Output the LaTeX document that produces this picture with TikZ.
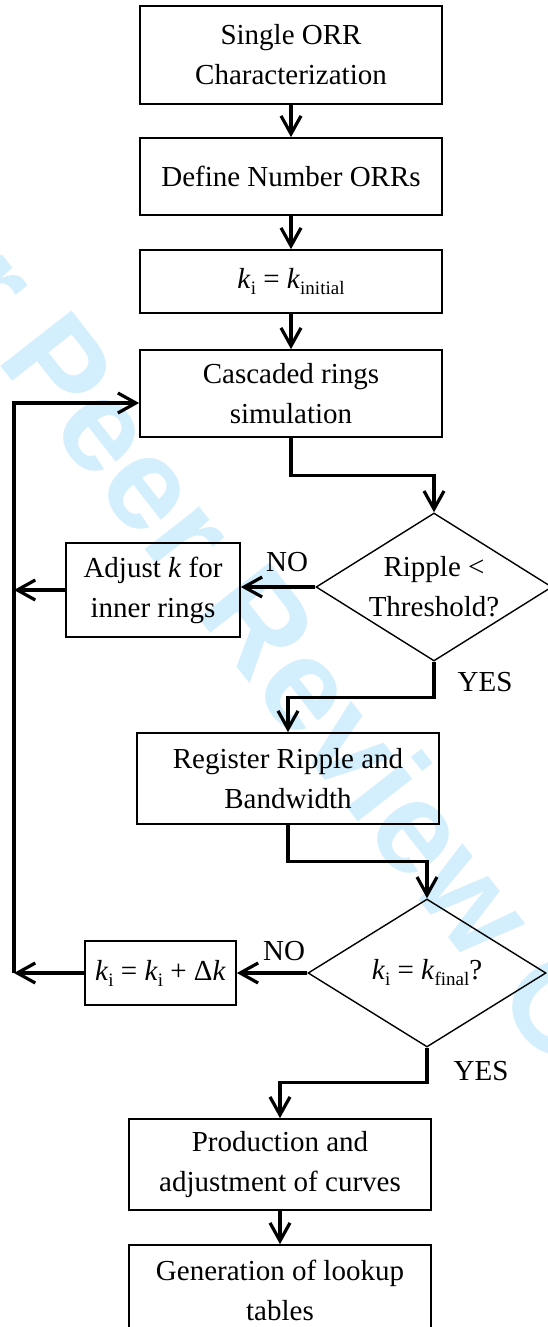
\documentclass[tikz,border=0pt]{standalone}
\usepackage{fontspec}
\setmainfont{Liberation Serif}
\newfontfamily\wmfont{Liberation Sans}
\usetikzlibrary{shapes.geometric}
\usetikzlibrary{arrows.meta}
\usetikzlibrary{positioning}
\definecolor{wmblue}{RGB}{211,238,252}
\newcommand{\ksub}[1]{\textit{k}\raisebox{-0.45ex}{\fontsize{19}{19}\selectfont #1}}

\begin{document}
\begin{tikzpicture}[x=1pt,y=-1pt,font=\fontsize{29}{40}\selectfont,
    box/.style={draw, line width=1.7pt, align=center, inner sep=0pt, minimum width=302pt},
    decision/.style={draw, diamond, aspect=1.6, line width=1.4pt, align=center, inner sep=0pt,
        minimum width=236pt, minimum height=148pt},
    flow/.style={line width=3.2pt, -{Straight Barb[length=18pt,width=20pt]}},
    lbl/.style={inner sep=0pt}]
        \useasboundingbox (0,0) rectangle (547,1327);
        \node[rotate=-52, text=wmblue, inner sep=0pt,
            font=\wmfont\bfseries\fontsize{131}{131}\selectfont] (wm) at (285,674) {For Peer Review Only};

        \node[box, minimum height=98pt] (single) at (291,55) {Single ORR\\Characterization};
        \node[box, minimum height=77pt] (number) at (291,176.5) {Define Number ORRs};
        \node[box, minimum height=63pt] (kinit) at (291,281.5) {\ksub{i} = \ksub{initial}};
        \node[box, minimum height=87pt] (casc) at (291,393.5) {Cascaded rings\\simulation};
        \node[decision] (ripple) at (434,587) {Ripple <\\Threshold?};
        \node[box, minimum width=174pt, minimum height=94pt] (adjust) at (153,590) {Adjust \textit{k} for\\inner rings};
        \node[box, minimum height=91pt] (reg) at (288,778.5) {Register Ripple and\\Bandwidth};
        \node[decision, minimum width=238pt] (kfinal) at (427,973) {\ksub{i} = \ksub{final}?};
        \node[box, minimum width=151pt, minimum height=64pt] (kstep) at (160.5,973) {\ksub{i} = \ksub{i} + Δ\textit{k}};
        \node[box, minimum height=91pt] (prod) at (280,1164.5) {Production and\\adjustment of curves};
        \node[box, minimum height=91pt] (lookup) at (280,1290.5) {Generation of lookup\\tables};

        \coordinate (loopT) at (14,403);
        \coordinate (loopB) at (14,973);

        \draw[flow] (single) -- (number);
        \draw[flow] (number) -- (kinit);
        \draw[flow] (kinit) -- (casc);
        \draw[flow] (casc.south) -- ++(0,38) -| (ripple.north);
        \draw[flow] (ripple.west) -- node[lbl, above=14pt, pos=0.38] {NO} (ripple.west -| adjust.east);
        \draw[flow] (adjust.west) -- (adjust.west -| loopT);
        \draw[flow] (ripple.south) -- node[lbl, right=22pt, pos=0.57] {YES} ++(0,36) -| (reg.north);
        \draw[flow] (reg.south) -- ++(0,37) -| (kfinal.north);
        \draw[flow] (kfinal.west) -- node[lbl, above=11pt, pos=0.33] {NO} (kfinal.west -| kstep.east);
        \draw[flow] (kstep.west) -- (kstep.west -| loopB);
        \draw[flow] (loopB) -- (loopT) -- (loopT -| casc.west);
        \draw[flow] (kfinal.south) -- node[lbl, right=25pt, pos=0.67] {YES} ++(0,35) -| (prod.north);
        \draw[flow] (prod) -- (lookup);
\end{tikzpicture}
\end{document}
